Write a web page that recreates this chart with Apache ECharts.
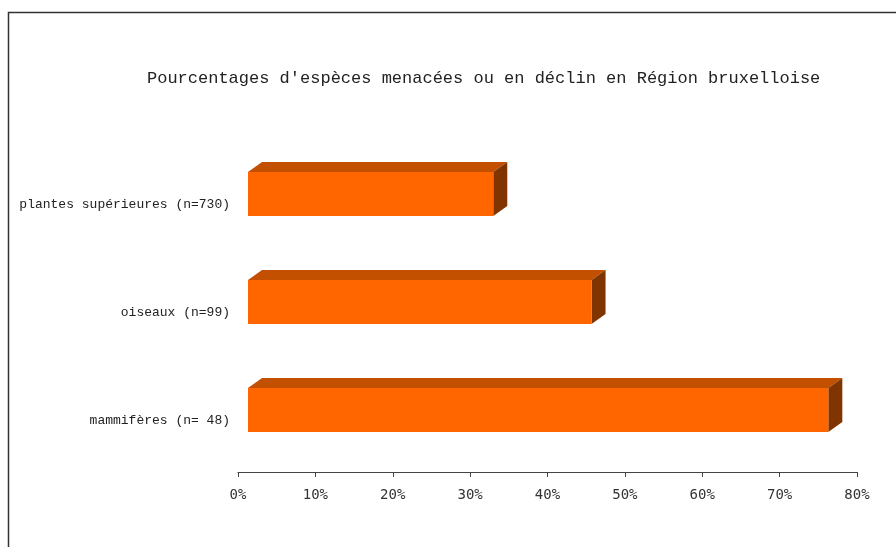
<!DOCTYPE html>
<html lang="fr">
<head>
    <meta charset="UTF-8">
    <title>Espèces menacées</title>
    <style>
        html, body { margin: 0; padding: 0; background: #fff; }
        #main { width: 896px; height: 547px; }
    </style>
    <script src="https://cdn.jsdelivr.net/npm/echarts@6/dist/echarts.min.js"></script>
</head>
<body>
<div id="main"></div>
<script>
    // données (top -> bas)
    let categories = ['plantes supérieures (n=730)', 'oiseaux (n=99)', 'mammifères (n= 48)'];
    let values = [31.7, 44.4, 75.0];
    let ticks = [0, 10, 20, 30, 40, 50, 60, 70, 80];

    let chart = echarts.init(document.getElementById('main'));

    // décalage de la profondeur 3D
    let DX = 14, DY = -10;
    let SHIFT_X = 10, SHIFT_Y = -8;

    function renderBox(params, api) {
        let idx = api.value(0);
        let v = api.value(1);
        let p0 = api.coord([0, idx]);
        let p1 = api.coord([v, idx]);
        let band = api.size([0, 1])[1];
        let h = band * 44 / 108;
        let x0 = p0[0] + SHIFT_X;
        let x1 = p1[0] + SHIFT_X;
        let cy = p0[1] + SHIFT_Y;
        let top = cy - h / 2, bot = cy + h / 2;
        return {
            type: 'group',
            children: [
                {
                    type: 'polygon',
                    shape: { points: [[x0, top], [x0 + DX, top + DY], [x1 + DX, top + DY], [x1, top]] },
                    style: { fill: '#c25000' }
                },
                {
                    type: 'polygon',
                    shape: { points: [[x1, top], [x1 + DX, top + DY], [x1 + DX, bot + DY], [x1, bot]] },
                    style: { fill: '#803400' }
                },
                {
                    type: 'rect',
                    shape: { x: x0, y: top, width: x1 - x0, height: h },
                    style: { fill: '#ff6600' }
                }
            ]
        };
    }

    let option = {
        animation: false,
        title: {
            text: "Pourcentages d'espèces menacées ou en déclin en Région bruxelloise",
            left: 142,
            top: 65,
            textStyle: {
                fontFamily: 'Liberation Mono',
                fontSize: 17,
                fontWeight: 'normal',
                color: '#222'
            }
        },
        graphic: [{
            type: 'rect',
            shape: { x: 8.5, y: 12.5, width: 1000, height: 1000 },
            style: { fill: 'none', stroke: '#333', lineWidth: 1.5 },
            silent: true
        }],
        grid: { left: 238, right: 39, top: 148, bottom: 75 },
        xAxis: {
            type: 'value',
            min: ticks[0],
            max: ticks[ticks.length - 1],
            interval: 10,
            splitLine: { show: false },
            axisLine: { show: true, lineStyle: { color: '#444', width: 1 } },
            axisTick: { show: true, length: 5, lineStyle: { color: '#444' } },
            axisLabel: {
                formatter: '{value}%',
                margin: 16,
                fontFamily: 'DejaVu Sans Mono',
                fontSize: 14,
                color: '#333'
            }
        },
        yAxis: {
            type: 'category',
            data: categories,
            inverse: true,
            axisLine: { show: false },
            axisTick: { show: false },
            axisLabel: {
                margin: 8,
                formatter: function (v) { return '{c|' + v + '}'; },
                rich: {
                    c: {
                        padding: [6, 0, 0, 0],
                        fontFamily: 'Liberation Mono',
                        fontSize: 13,
                        color: '#222'
                    }
                }
            }
        },
        series: [{
            type: 'custom',
            renderItem: renderBox,
            encode: { x: 1, y: 0 },
            data: values.map(function (v, i) { return [i, v]; })
        }]
    };

    chart.setOption(option);
</script>
</body>
</html>
